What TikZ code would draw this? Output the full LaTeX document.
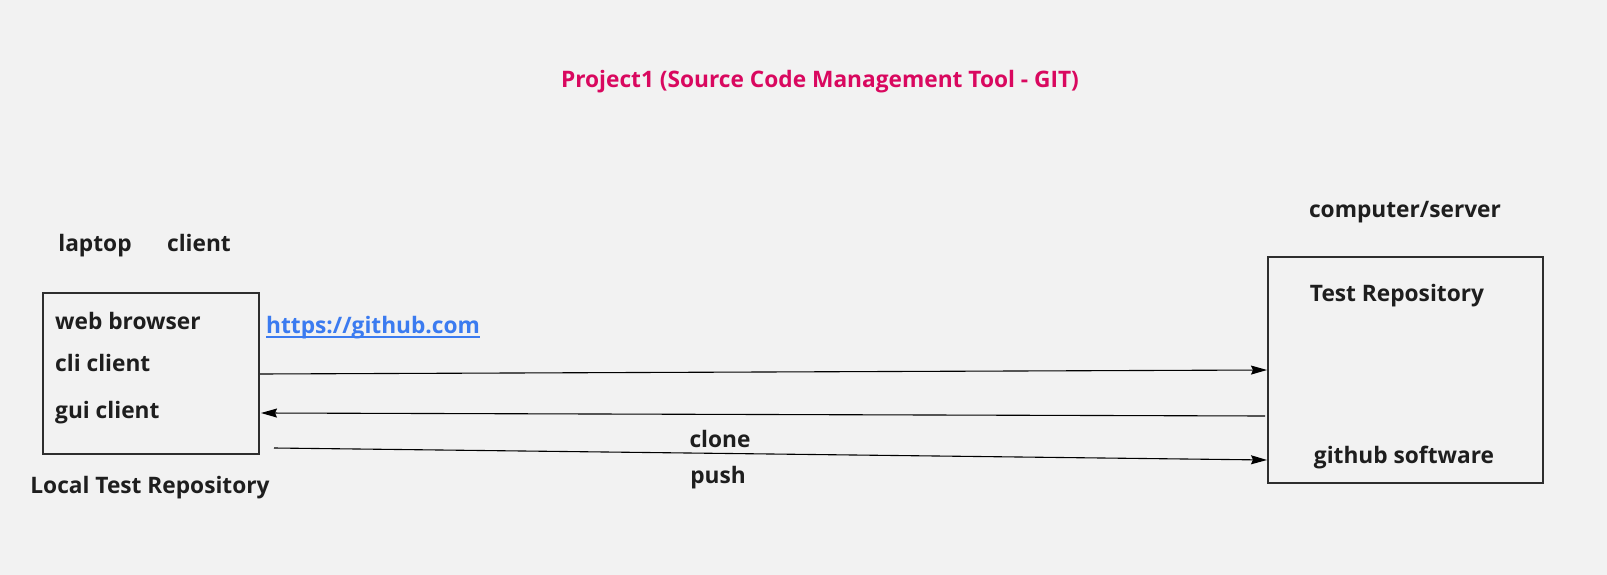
\documentclass[tikz,border=0pt]{standalone}
\usepackage{fontspec}
\setmainfont{Open Sans}
\usetikzlibrary{arrows.meta}
\definecolor{bgc}{HTML}{F2F2F2}
\definecolor{txt}{HTML}{1E1E1E}
\definecolor{ttl}{HTML}{D9085F}
\definecolor{lnk}{HTML}{3B7BF0}
\definecolor{boxc}{HTML}{2E2E2E}
\tikzset{
  lbl/.style={font=\fontsize{22.7}{27}\selectfont\bfseries, text=txt, inner sep=0pt},
  boxst/.style={draw=boxc, line width=2.8pt, fill=none},
  conn/.style={draw=black, line width=1.1pt, -{Stealth[length=16pt,width=9pt,inset=2pt]}}
}
\begin{document}
\begin{tikzpicture}[x=1pt,y=-1pt]
\fill[bgc] (0,0) rectangle (1607,575);
\useasboundingbox (0,0) rectangle (1607,575);
% title
\node[lbl, text=ttl, anchor=base] (title) at (820,88) {Project1 (Source Code Management Tool - GIT)};
% left
\node[lbl, anchor=base] (laptop) at (95,251) {laptop};
\node[lbl, anchor=base] (client) at (199,251) {client};
\draw[boxst] (43,293) rectangle (259,454);
\node (lbox) at (151,373.5) [minimum width=216pt, minimum height=161pt, inner sep=0pt] {};
\node[lbl, anchor=base west] (web) at (55,329) {web browser};
\node[lbl, anchor=base west] (cli) at (55,371) {cli client};
\node[lbl, anchor=base west] (gui) at (55,418) {gui client};
\node[lbl, anchor=base] (local) at (150,493) {Local Test Repository};
\node[lbl, text=lnk, anchor=base west] (link) at (266,333) {https://github.com};
\draw[lnk, line width=1.6pt] ([yshift=-4pt]link.base west) -- ([yshift=-4pt]link.base east);
% right
\node[lbl, anchor=base] (cs) at (1405,217) {computer/server};
\draw[boxst] (1268,257) rectangle (1543,483);
\node (rbox) at (1405.5,370) [minimum width=275pt, minimum height=226pt, inner sep=0pt] {};
\node[lbl, anchor=base] (trepo) at (1397,301) {Test Repository};
\node[lbl, anchor=base] (ghs) at (1404,463) {github software};
% labels
\node[lbl, anchor=base] (clone) at (720,447) {clone};
\node[lbl, anchor=base] (push) at (718,483) {push};
% connectors
\coordinate (a1s) at (260,374);
\coordinate (a1e) at (1267,370);
\coordinate (a2s) at (1265,416);
\coordinate (a2e) at (261,413);
\coordinate (a3s) at (274,448);
\coordinate (a3e) at (1267,460);
\draw[conn] (a1s) -- (a1e);
\draw[conn] (a2s) -- (a2e);
\draw[conn] (a3s) -- (a3e);
\end{tikzpicture}
\end{document}
